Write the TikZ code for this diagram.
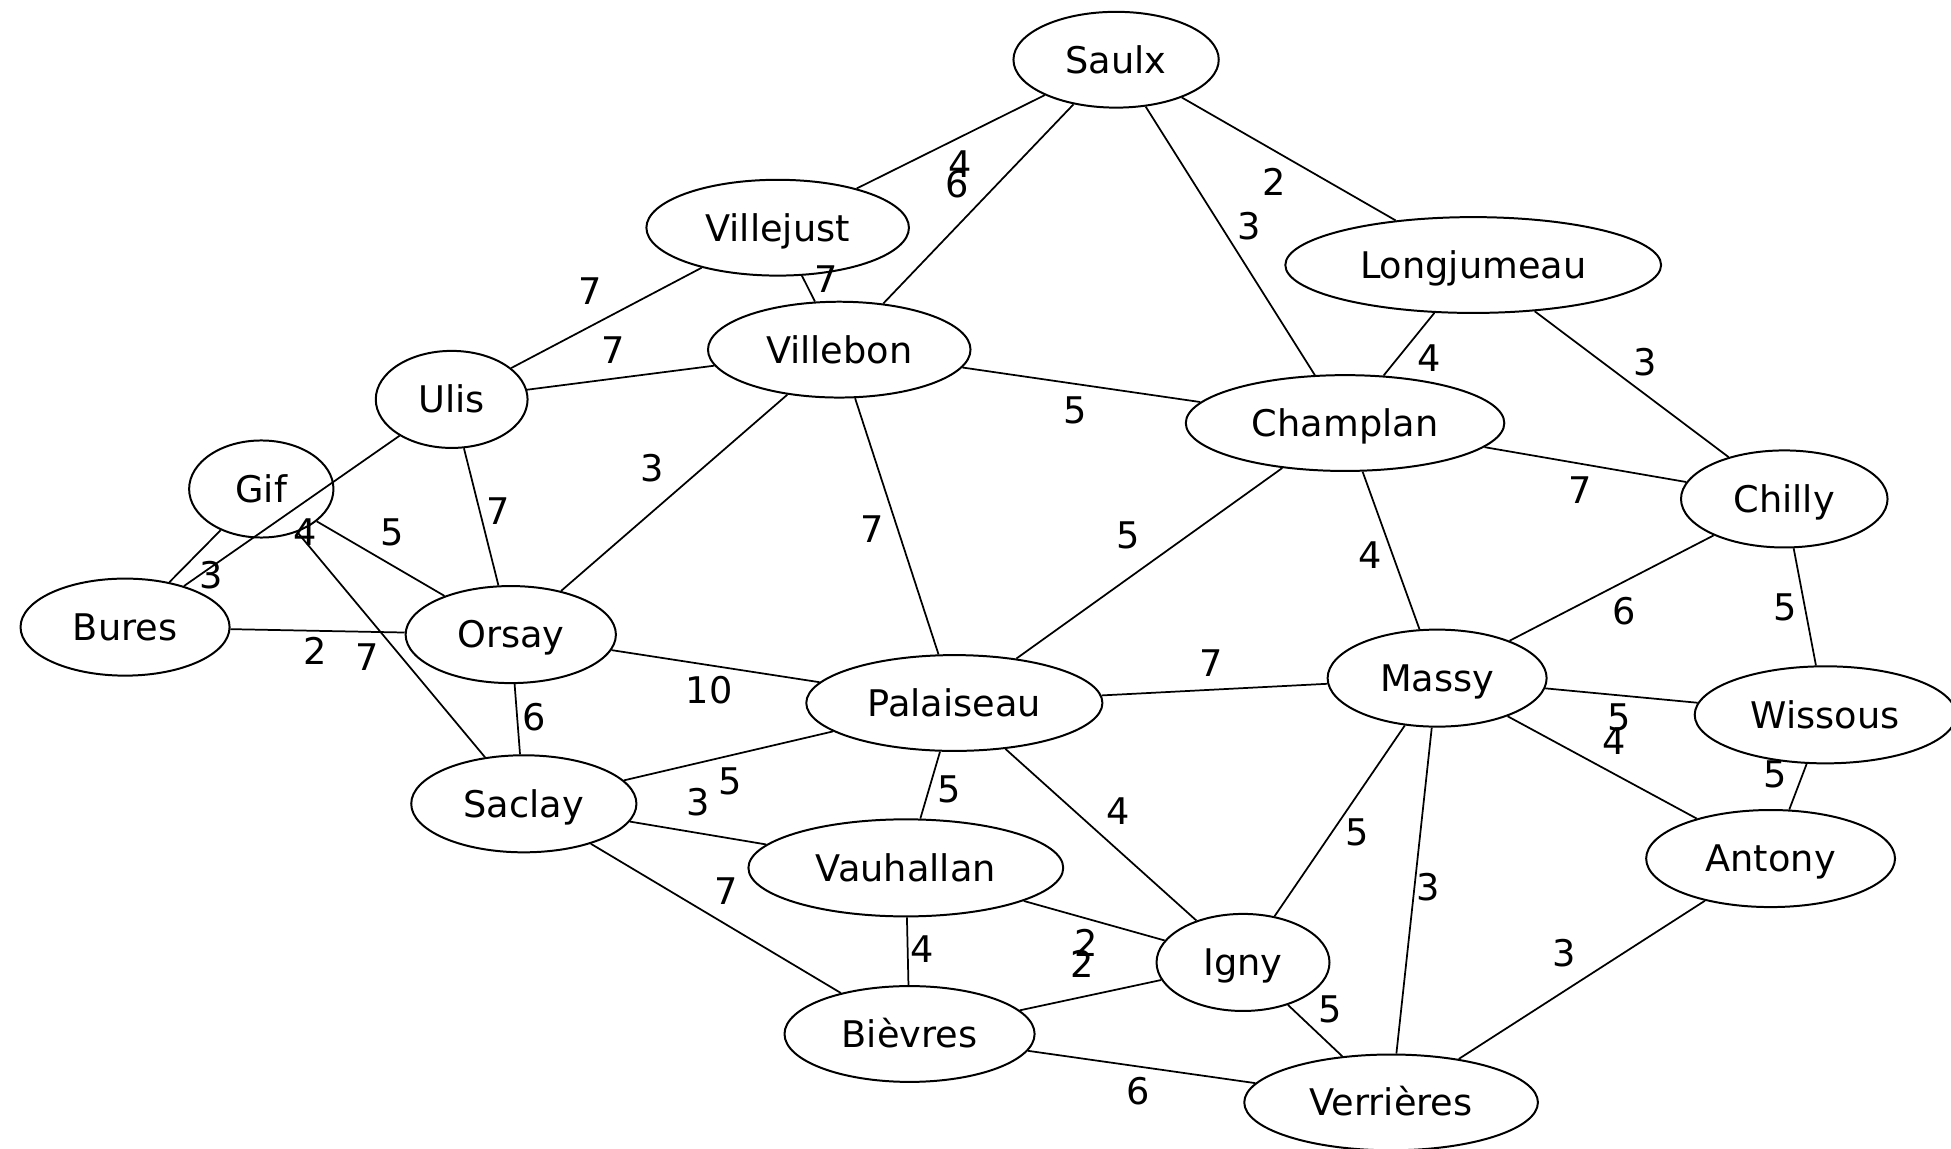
\documentclass[tikz,border=0pt]{standalone}
\usepackage{fontspec}
\setmainfont{DejaVu Sans}
\usetikzlibrary{shapes.geometric}
\newcommand\townfont{\fontsize{29.5}{35}\selectfont}
\begin{document}
\begin{tikzpicture}[x=1pt,y=-1pt,
  town/.style={ellipse, draw, line width=1.6pt, inner sep=0pt, font=\townfont,
    text height=21.5pt, text depth=0pt},
  road/.style={line width=1.4pt},
  dist/.style={inner sep=0pt, font=\townfont, text height=21.5pt, text depth=0pt}]
\useasboundingbox (0,0) rectangle (1568,923);

% towns
\node[town, minimum width=165, minimum height=77] (saulx) at (897,48) {Saulx};
\node[town, minimum width=211, minimum height=77] (villejust) at (625,183) {Villejust};
\node[town, minimum width=211, minimum height=77] (villebon) at (674.5,281) {Villebon};
\node[town, minimum width=122, minimum height=78] (ulis) at (363,321) {Ulis};
\node[town, minimum width=116, minimum height=78] (gif) at (210,393) {Gif};
\node[town, minimum width=168, minimum height=78] (bures) at (100.5,504) {Bures};
\node[town, minimum width=169, minimum height=78] (orsay) at (410.5,510) {Orsay};
\node[town, minimum width=181, minimum height=78] (saclay) at (421,646) {Saclay};
\node[town, minimum width=238, minimum height=77] (palaiseau) at (767,565) {Palaiseau};
\node[town, minimum width=253, minimum height=78] (vauhallan) at (728,697.5) {Vauhallan};
\node[town, minimum width=201, minimum height=77] (bievres) at (731,831) {Bièvres};
\node[town, minimum width=256, minimum height=77] (champlan) at (1081,340) {Champlan};
\node[town, minimum width=302, minimum height=77] (longjumeau) at (1184,213) {Longjumeau};
\node[town, minimum width=166, minimum height=78] (chilly) at (1434,401) {Chilly};
\node[town, minimum width=176, minimum height=78] (massy) at (1155,545) {Massy};
\node[town, minimum width=210, minimum height=78] (wissous) at (1467,574.5) {Wissous};
\node[town, minimum width=200, minimum height=78] (antony) at (1423,690) {Antony};
\node[town, minimum width=139, minimum height=78] (igny) at (999,773.5) {Igny};
\node[town, minimum width=236, minimum height=77] (verrieres) at (1118,886) {Verrières};

% roads
\draw[road] (saulx) -- (villejust);
\draw[road] (saulx) -- (villebon);
\draw[road] (saulx) -- (champlan);
\draw[road] (saulx) -- (longjumeau);
\draw[road] (villejust) -- (villebon);
\draw[road] (villejust) -- (ulis);
\draw[road] (ulis) -- (villebon);
\draw[road] (villebon) -- (champlan);
\draw[road] (villebon) -- (orsay);
\draw[road] (villebon) -- (palaiseau);
\draw[road] (longjumeau) -- (champlan);
\draw[road] (longjumeau) -- (chilly);
\draw[road] (champlan) -- (chilly);
\draw[road] (champlan) -- (palaiseau);
\draw[road] (champlan) -- (massy);
\draw[road] (ulis) -- (bures);
\draw[road] (ulis) -- (orsay);
\draw[road] (gif) -- (bures);
\draw[road] (gif) -- (orsay);
\draw[road] (gif) -- (saclay);
\draw[road] (bures) -- (orsay);
\draw[road] (orsay) -- (palaiseau);
\draw[road] (orsay) -- (saclay);
\draw[road] (saclay) -- (palaiseau);
\draw[road] (saclay) -- (vauhallan);
\draw[road] (saclay) -- (bievres);
\draw[road] (palaiseau) -- (vauhallan);
\draw[road] (palaiseau) -- (massy);
\draw[road] (palaiseau) -- (igny);
\draw[road] (vauhallan) -- (bievres);
\draw[road] (vauhallan) -- (igny);
\draw[road] (bievres) -- (igny);
\draw[road] (bievres) -- (verrieres);
\draw[road] (igny) -- (verrieres);
\draw[road] (igny) -- (massy);
\draw[road] (massy) -- (verrieres);
\draw[road] (massy) -- (chilly);
\draw[road] (massy) -- (wissous);
\draw[road] (massy) -- (antony);
\draw[road] (chilly) -- (wissous);
\draw[road] (wissous) -- (antony);
\draw[road] (antony) -- (verrieres);

% distances
\node[dist] (d1) at (772,132) {4};
\node[dist] (d2) at (769,148) {6};
\node[dist] (d3) at (1004,182) {3};
\node[dist] (d4) at (1024,146) {2};
\node[dist] (d5) at (664,224) {7};
\node[dist] (d6) at (474,234) {7};
\node[dist] (d7) at (493,281) {7};
\node[dist] (d8) at (864,330) {5};
\node[dist] (d9) at (524,376) {3};
\node[dist] (d10) at (701,425) {7};
\node[dist] (d11) at (1149,288) {4};
\node[dist] (d12) at (1322,291) {3};
\node[dist] (d13) at (1270,394) {7};
\node[dist] (d14) at (907,430) {5};
\node[dist] (d15) at (1101,446) {4};
\node[dist] (d16) at (245,428) {4};
\node[dist] (d17) at (400,411) {7};
\node[dist] (d18) at (170,462) {3};
\node[dist] (d19) at (315,428) {5};
\node[dist] (d20) at (295,528) {7};
\node[dist] (d21) at (253,523) {2};
\node[dist] (d22) at (570,555) {10};
\node[dist] (d23) at (429,576) {6};
\node[dist] (d24) at (587,628) {5};
\node[dist] (d25) at (561,645) {3};
\node[dist] (d26) at (584,716) {7};
\node[dist] (d27) at (763,634) {5};
\node[dist] (d28) at (973,533) {7};
\node[dist] (d29) at (899,652) {4};
\node[dist] (d30) at (741,763) {4};
\node[dist] (d31) at (873,758) {2};
\node[dist] (d32) at (870,775) {2};
\node[dist] (d33) at (915,877) {6};
\node[dist] (d34) at (1069,811) {5};
\node[dist] (d35) at (1148,713) {3};
\node[dist] (d36) at (1091,669) {5};
\node[dist] (d37) at (1305,491) {6};
\node[dist] (d38) at (1301,576) {5};
\node[dist] (d39) at (1297,596) {4};
\node[dist] (d40) at (1435,488) {5};
\node[dist] (d41) at (1427,622) {5};
\node[dist] (d42) at (1257,766) {3};
\end{tikzpicture}
\end{document}
